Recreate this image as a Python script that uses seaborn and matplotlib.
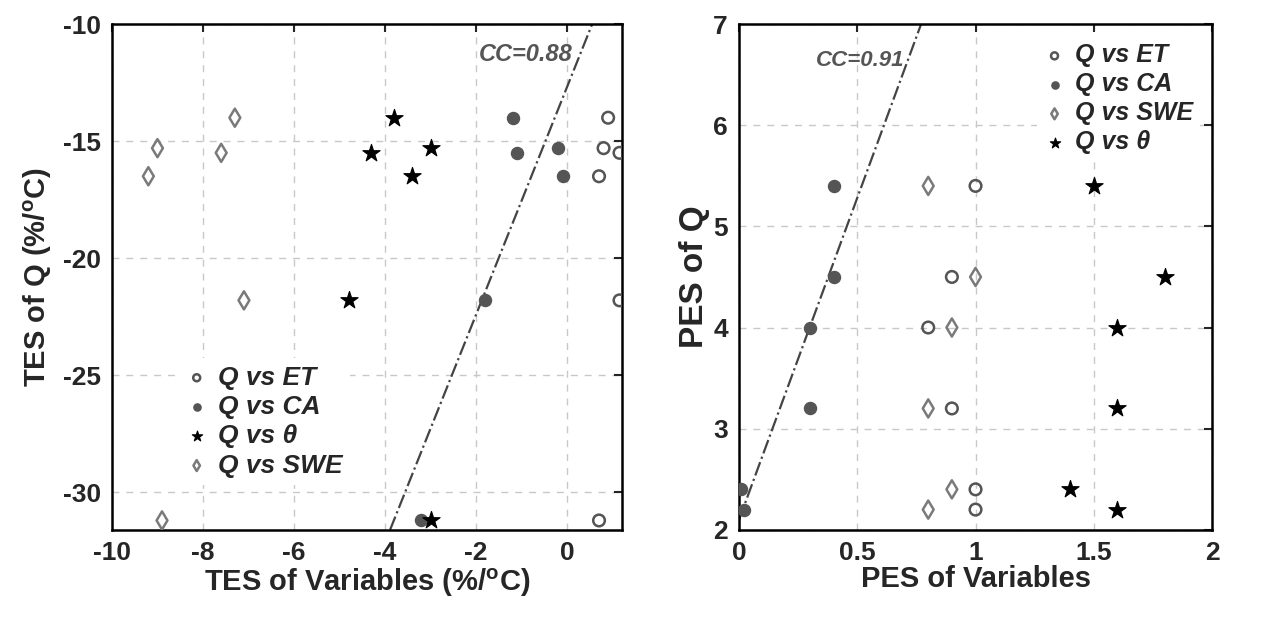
import seaborn as sns
import matplotlib.pyplot as plt
import pandas as pd
import numpy as np

# ---- left panel: temperature elasticity (TES) ----
tes_q = [-14.0, -15.3, -15.5, -16.5, -21.8, -31.2]
tes_et = [0.9, 0.8, 1.15, 0.7, 1.15, 0.7]
tes_ca = [-1.2, -0.2, -1.1, -0.1, -1.8, -3.2]
tes_theta = [-3.8, -3.0, -4.3, -3.4, -4.8, -3.0]
tes_swe = [-7.3, -9.0, -7.6, -9.2, -7.1, -8.9]
tes_line_x = [-3.89, 0.55]
tes_line_y = [-31.6, -10.0]

# ---- right panel: precipitation elasticity (PES) ----
pes_q = [5.4, 4.5, 4.0, 3.2, 2.4, 2.2]
pes_et = [1.0, 0.9, 0.8, 0.9, 1.0, 1.0]
pes_ca = [0.4, 0.4, 0.3, 0.3, 0.01, 0.02]
pes_swe = [0.8, 1.0, 0.9, 0.8, 0.9, 0.8]
pes_theta = [1.5, 1.8, 1.6, 1.6, 1.4, 1.6]
pes_line_x = [0.0, 0.77]
pes_line_y = [2.1, 7.0]

sns.set_style('white')
plt.rcParams['font.family'] = ['Liberation Sans', 'DejaVu Sans']
plt.rcParams['font.weight'] = 'bold'
plt.rcParams['axes.unicode_minus'] = False
plt.rcParams['mathtext.fontset'] = 'custom'
plt.rcParams['mathtext.rm'] = 'Liberation Sans:bold'
plt.rcParams['mathtext.bf'] = 'Liberation Sans:bold'
plt.rcParams['mathtext.default'] = 'bf'

gray_c = '#555555'
gray_d = '#7a7a7a'
styles = {
    'ET': dict(marker='o', facecolor='none', edgecolor=gray_c, s=70, linewidth=1.8),
    'CA': dict(marker='o', facecolor=gray_c, edgecolor=gray_c, s=75, linewidth=1.0),
    'theta': dict(marker='*', facecolor='black', edgecolor='black', s=170, linewidth=0.8),
    'SWE': dict(marker='d', facecolor='none', edgecolor=gray_d, s=85, linewidth=1.8),
}
labels = {'ET': 'Q vs ET', 'CA': 'Q vs CA', 'theta': 'Q vs \u03b8', 'SWE': 'Q vs SWE'}

fig = plt.figure(figsize=(12.62, 6.33), dpi=100)
ax1 = fig.add_axes([0.0887, 0.163, 0.404, 0.799])
ax2 = fig.add_axes([0.5856, 0.163, 0.3748, 0.799])


def draw(ax, q, series, order):
    for key in order:
        df = pd.DataFrame({'x': series[key], 'y': q})
        st = styles[key]
        sns.scatterplot(data=df, x='x', y='y', ax=ax, marker=st['marker'],
                        facecolor=st['facecolor'], edgecolor=st['edgecolor'],
                        s=st['s'], linewidth=st['linewidth'], label=labels[key],
                        clip_on=True, zorder=3)


def style_axes(ax):
    ax.grid(True, linestyle=(0, (5, 5)), color='#c8c8c8', linewidth=1.0)
    ax.tick_params(direction='in', length=6, width=1.5, top=True, right=True,
                   labelsize=19, pad=8)
    for sp in ax.spines.values():
        sp.set_linewidth(1.8)
        sp.set_color('black')
    for lab in ax.get_xticklabels() + ax.get_yticklabels():
        lab.set_fontweight('bold')


def make_legend(ax, size, anchor):
    leg = ax.legend(loc='center left', bbox_to_anchor=anchor, borderaxespad=0,
                    frameon=True, prop={'size': size, 'weight': 'bold', 'style': 'italic'},
                    handletextpad=0.4, borderpad=0.3, labelspacing=0.2,
                    markerscale=0.6, handlelength=0.8)
    leg.get_frame().set_edgecolor('none')
    leg.get_frame().set_facecolor('white')
    leg.get_frame().set_alpha(1.0)
    leg.get_frame().set_boxstyle('square', pad=0)
    return leg


# left panel
draw(ax1, tes_q, {'ET': tes_et, 'CA': tes_ca, 'theta': tes_theta, 'SWE': tes_swe},
     ['ET', 'CA', 'theta', 'SWE'])
sns.lineplot(x=tes_line_x, y=tes_line_y, ax=ax1, color='#444444', linestyle='-.',
             linewidth=1.6, zorder=2)
ax1.set_xlim(-10, 1.2)
ax1.set_ylim(-31.6, -10)
ax1.set_xticks([-10, -8, -6, -4, -2, 0])
ax1.set_yticks([-30, -25, -20, -15, -10])
ax1.set_xlabel(r'TES of Variables (%/$^{o}$C)', fontsize=21, fontweight='bold', labelpad=1)
ax1.set_ylabel(r'TES of Q (%/$^{o}$C)', fontsize=21, fontweight='bold', labelpad=6)
ax1.text(0.12, -11.3, 'CC=0.88', fontsize=17, fontweight='bold', fontstyle='italic',
         color='#555555', ha='right', va='center')
style_axes(ax1)
make_legend(ax1, 19, (0.13, 0.214))

# right panel
draw(ax2, pes_q, {'ET': pes_et, 'CA': pes_ca, 'SWE': pes_swe, 'theta': pes_theta},
     ['ET', 'CA', 'SWE', 'theta'])
sns.lineplot(x=pes_line_x, y=pes_line_y, ax=ax2, color='#444444', linestyle='-.',
             linewidth=1.6, zorder=2)
ax2.set_xlim(0, 2)
ax2.set_ylim(2, 7)
ax2.set_xticks([0, 0.5, 1, 1.5, 2])
ax2.set_xticklabels(['0', '0.5', '1', '1.5', '2'])
ax2.set_yticks([2, 3, 4, 5, 6, 7])
ax2.set_xlabel('PES of Variables', fontsize=21, fontweight='bold', labelpad=0)
ax2.set_ylabel('PES of Q', fontsize=24, fontweight='bold', labelpad=2)
ax2.text(0.7, 6.64, 'CC=0.91', fontsize=16, fontweight='bold', fontstyle='italic',
         color='#555555', ha='right', va='center')
style_axes(ax2)
make_legend(ax2, 18, (0.63, 0.852))

fig.savefig('out.png', dpi=100)
